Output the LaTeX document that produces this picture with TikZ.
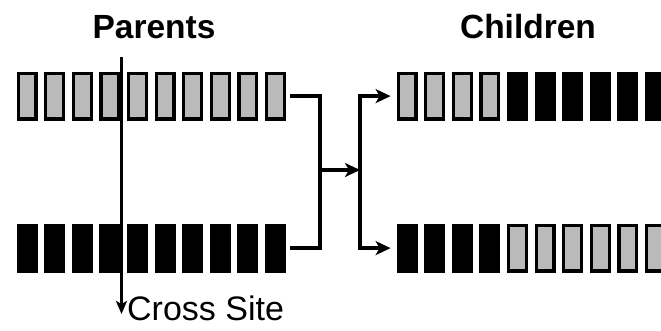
\documentclass[tikz,border=0pt]{standalone}
\usepackage{fontspec}
\setmainfont{Liberation Sans}
\usetikzlibrary{arrows.meta}
\tikzset{
  gene/.style={rectangle, draw=black, line width=3.2pt, minimum width=17.8pt,
    minimum height=45.8pt, inner sep=0pt, anchor=north west},
  grey gene/.style={gene, fill=black!27},
  dark gene/.style={gene, fill=black},
  link/.style={line width=3.5pt, line join=miter},
  tip/.style={-{Stealth[length=15pt,width=14pt,inset=4pt]}},
  title/.style={font=\bfseries\fontsize{33.5}{38}\selectfont, inner sep=0pt},
  caption/.style={font=\fontsize{34}{38}\selectfont, inner sep=0pt}
}
\begin{document}
\begin{tikzpicture}[x=1pt,y=-1pt]
\clip (0,0) rectangle (661,330);
\fill[white] (0,0) rectangle (661,330);

% column titles
\node[title] (parents) at (154,27) {Parents};
\node[title] (children) at (528,27) {Children};

% parent chromosomes
\foreach \i in {1,...,10} {
  \node[grey gene] (p1-\i) at ({16.6+27.6*(\i-1)},71.6) {};
  \node[dark gene] (p2-\i) at ({16.6+27.6*(\i-1)},223.6) {};
}

% child chromosomes: genes swapped after the fourth position
\foreach \i in {1,...,10} {
  \ifnum\i<5
    \node[grey gene] (c1-\i) at ({396.6+27.6*(\i-1)},71.6) {};
    \node[dark gene] (c2-\i) at ({396.6+27.6*(\i-1)},223.6) {};
  \else
    \node[dark gene] (c1-\i) at ({396.6+27.6*(\i-1)},71.6) {};
    \node[grey gene] (c2-\i) at ({396.6+27.6*(\i-1)},223.6) {};
  \fi
}

% crossover junction
\coordinate (jl) at (320,170);
\coordinate (jr) at (360,170);
\draw[link] ([xshift=4pt]p1-10.east) -| (jl);
\draw[link] ([xshift=4pt]p2-10.east) -| (jl);
\draw[link,tip] (jl) -- (jr);
\draw[link,tip,shorten >=6pt] (jr) |- (c1-1.west);
\draw[link,tip,shorten >=6pt] (jr) |- (c2-1.west);

% cross site marker
\coordinate (cs-top) at (121.5,57);
\coordinate (cs-end) at (121.5,314);
\draw[line width=2.8pt,-{Stealth[length=13pt,width=11pt,inset=3pt]}] (cs-top) -- (cs-end);
\node[caption, anchor=base west] (cross) at (127,320) {Cross Site};
\end{tikzpicture}
\end{document}
